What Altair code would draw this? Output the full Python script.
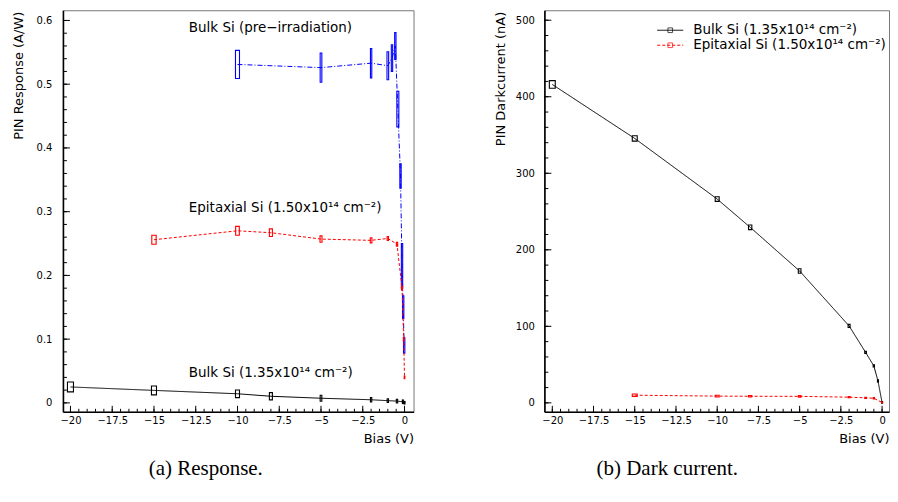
import altair as alt
import pandas as pd

FONT = "DejaVu Sans"
SERIF = "Liberation Serif"

# ---------------- Panel (a): PIN response ----------------
# Bulk Si (pre-irradiation), blue
pre_v    = [-10, -5, -2, -1, -0.75, -0.55, -0.4, -0.24, -0.15, -0.08, -0.02]
pre_r    = [0.531, 0.526, 0.533, 0.529, 0.541, 0.560, 0.461, 0.356, 0.215, 0.150, 0.090]
pre_err  = [0.022, 0.023, 0.023, 0.022, 0.021, 0.021, 0.028, 0.019, 0.035, 0.018, 0.012]
pre_xerr = [0.12, 0.05, 0.04, 0.05, 0.04, 0.04, 0.06, 0.04, 0.04, 0.04, 0.04]

# Epitaxial Si (1.50e14), red
epi_v    = [-15, -10, -8, -5, -2, -1, -0.45, -0.15, -0.05, 0.0]
epi_r    = [0.256, 0.270, 0.267, 0.257, 0.255, 0.258, 0.249, 0.180, 0.100, 0.040]
epi_err  = [0.007, 0.007, 0.006, 0.005, 0.004, 0.003, 0.003, 0.003, 0.003, 0.002]
epi_xerr = [0.13, 0.11, 0.09, 0.06, 0.05, 0.04, 0.04, 0.03, 0.02, 0.02]

# Bulk Si (1.35e14), black
blk_v    = [-20, -15, -10, -8, -5, -2, -1, -0.45, -0.1, 0.0]
blk_r    = [0.025, 0.0196, 0.0143, 0.0104, 0.0073, 0.0049, 0.0035, 0.0028, 0.0018, 0.0003]
blk_err  = [0.0078, 0.0070, 0.0060, 0.0057, 0.0047, 0.0034, 0.0030, 0.0030, 0.0028, 0.0020]
blk_xerr = [0.18, 0.15, 0.12, 0.09, 0.05, 0.04, 0.04, 0.04, 0.03, 0.03]

# ---------------- Panel (b): dark current ----------------
dblk_v    = [-20, -15, -10, -8, -5, -2, -1, -0.5, -0.25, 0.0]
dblk_i    = [416.0, 345.5, 266.3, 229.4, 172.3, 100.5, 66.0, 48.3, 28.7, 0.5]
dblk_err  = [5.0, 3.5, 3.0, 3.0, 3.0, 2.0, 1.5, 1.5, 1.5, 1.0]
dblk_xerr = [0.18, 0.15, 0.12, 0.10, 0.08, 0.06, 0.05, 0.04, 0.03, 0.03]

depi_v    = [-15, -10, -8, -5, -2, -1, -0.5, 0.0]
depi_i    = [10.0, 8.8, 8.6, 8.5, 7.4, 6.6, 6.0, 0.5]
depi_err  = [1.5, 1.2, 1.0, 1.0, 0.8, 0.8, 0.8, 0.5]
depi_xerr = [0.15, 0.12, 0.10, 0.08, 0.06, 0.05, 0.04, 0.03]

# ---------------- axes / text ----------------
x_major = [-20, -17.5, -15, -12.5, -10, -7.5, -5, -2.5, 0]
x_minor = [-20 + 0.5 * i for i in range(41)]
ya_major = [0, 0.1, 0.2, 0.3, 0.4, 0.5, 0.6]
ya_minor = [round(0.02 * i, 2) for i in range(31)]
yb_major = [0, 100, 200, 300, 400, 500]
yb_minor = [20 * i for i in range(26)]

xa_domain = [-20.45, 0.54]
xb_domain = [-20.48, 0.42]
ya_domain = [-0.014, 0.616]
yb_domain = [-11.7, 513]

legend_labels = ["Bulk Si (1.35x10\u00b9\u2074 cm\u207b\u00b2)",
                 "Epitaxial Si (1.50x10\u00b9\u2074 cm\u207b\u00b2)"]
ann_a = ["Bulk Si (pre\u2212irradiation)",
         "Epitaxial Si (1.50x10\u00b9\u2074 cm\u207b\u00b2)",
         "Bulk Si (1.35x10\u00b9\u2074 cm\u207b\u00b2)"]
captions = ["(a) Response.", "(b) Dark current."]

WA, WB, H = 351, 345, 402
LABEL_EXPR = "replace(toString(datum.value), '-', '\u2212')"


def make_df(v, y, ey, ex):
    return pd.DataFrame({
        "x": v, "y": y,
        "xlo": [a - b for a, b in zip(v, ex)], "xhi": [a + b for a, b in zip(v, ex)],
        "ylo": [a - b for a, b in zip(y, ey)], "yhi": [a + b for a, b in zip(y, ey)],
    })


def panel(series, xdom, ydom, ymaj, ymin, ytitle, W, ypad, extra):
    xs = alt.Scale(domain=xdom, nice=False, zero=False)
    ys = alt.Scale(domain=ydom, nice=False, zero=False)
    xaxis = alt.Axis(values=x_major, labelExpr=LABEL_EXPR, ticks=False, tickSize=0, grid=False,
                     domainColor="black", domainWidth=1.6, labelFont=FONT, labelFontSize=10,
                     labelColor="black", labelPadding=4, labelFlush=False, labelOverlap=False,
                     title="Bias (V)", titleFont=FONT, titleFontSize=13,
                     titleFontWeight="normal", titleColor="black", titleAlign="right",
                     titleBaseline="middle", titleX=W, titleY=27)
    yaxis = alt.Axis(values=ymaj, labelExpr=LABEL_EXPR, ticks=False, tickSize=0, grid=False,
                     domainColor="black", domainWidth=1.6, labelFont=FONT, labelFontSize=10,
                     labelColor="black", labelPadding=ypad, labelFlush=False, labelOverlap=False,
                     title=ytitle, titleFont=FONT, titleFontSize=13,
                     titleFontWeight="normal", titleColor="black", titleAngle=270,
                     titleAlign="right", titleBaseline="middle", titleX=-44, titleY=1)

    def X(f):
        return alt.X(f, scale=xs, axis=xaxis)

    def Y(f):
        return alt.Y(f, scale=ys, axis=yaxis)

    layers = []
    # major/minor ticks drawn inside the frame
    layers.append(alt.Chart(pd.DataFrame({"x": x_major})).mark_rule(color="black", strokeWidth=1).encode(
        x=X("x:Q"), y=alt.value(H), y2=alt.value(H - 6)))
    layers.append(alt.Chart(pd.DataFrame({"x": x_minor})).mark_rule(color="black", strokeWidth=1).encode(
        x=X("x:Q"), y=alt.value(H), y2=alt.value(H - 3)))
    layers.append(alt.Chart(pd.DataFrame({"y": ymaj})).mark_rule(color="black", strokeWidth=1).encode(
        y=Y("y:Q"), x=alt.value(0), x2=alt.value(7)))
    layers.append(alt.Chart(pd.DataFrame({"y": ymin})).mark_rule(color="black", strokeWidth=1).encode(
        y=Y("y:Q"), x=alt.value(0), x2=alt.value(4)))

    for df, color, dash in series:
        layers.append(alt.Chart(df).mark_line(color=color, strokeWidth=1, strokeDash=dash).encode(
            x=X("x:Q"), y=Y("y:Q")))
        layers.append(alt.Chart(df).mark_rect(filled=False, stroke=color, strokeWidth=1.1).encode(
            x=X("xlo:Q"), x2="xhi:Q", y=Y("ylo:Q"), y2="yhi:Q"))
    layers += extra
    return alt.layer(*layers).properties(width=W, height=H)


def text_at(label, x, y, size=13.5, font=FONT, align="left"):
    return alt.Chart(pd.DataFrame({"t": [label]})).mark_text(
        font=font, fontSize=size, align=align, baseline="middle", color="black").encode(
        text="t:N", x=alt.value(x), y=alt.value(y))


# ---- panel (a)
ser_a = [
    (make_df(pre_v, pre_r, pre_err, pre_xerr), "#0000ff", [5, 2, 1, 2]),
    (make_df(epi_v, epi_r, epi_err, epi_xerr), "#ff0000", [3, 2]),
    (make_df(blk_v, blk_r, blk_err, blk_xerr), "black", [1, 0]),
]
extra_a = [
    text_at(ann_a[0], 126, 18),
    text_at(ann_a[1], 126, 198),
    text_at(ann_a[2], 126, 363),
    text_at(captions[0], 143, 459, size=21, font=SERIF, align="center"),
]
left = panel(ser_a, xa_domain, ya_domain, ya_major, ya_minor,
             "PIN Response (A/W)", WA, 11, extra_a)

# ---- panel (b)
ser_b = [
    (make_df(dblk_v, dblk_i, dblk_err, dblk_xerr), "black", [1, 0]),
    (make_df(depi_v, depi_i, depi_err, depi_xerr), "#ff0000", [3, 2]),
]
leg = []
for i, (lab, col, dash) in enumerate(zip(legend_labels, ["black", "#ff0000"], [[1, 0], [3, 2]])):
    yy = 20 + 15 * i
    leg.append(alt.Chart(pd.DataFrame({"a": [0]})).mark_rule(color=col, strokeWidth=1, strokeDash=dash).encode(
        x=alt.value(113), x2=alt.value(139), y=alt.value(yy)))
    leg.append(alt.Chart(pd.DataFrame({"a": [0]})).mark_point(shape="square", filled=False, color=col,
                                                             size=22, strokeWidth=1).encode(
        x=alt.value(126), y=alt.value(yy)))
    leg.append(text_at(lab, 149, yy))
extra_b = leg + [text_at(captions[1], 123, 459, size=21, font=SERIF, align="center")]
right = panel(ser_b, xb_domain, yb_domain, yb_major, yb_minor,
              "PIN Darkcurrent (nA)", WB, 10, extra_b)

chart = alt.hconcat(left, right, spacing=79).properties(
    padding={"left": 4, "top": 1, "right": 0, "bottom": 0},
    background="white",
).configure_view(stroke="#777777", strokeWidth=1)

chart.save("out.html", embed_options={"renderer": "svg", "actions": False})
